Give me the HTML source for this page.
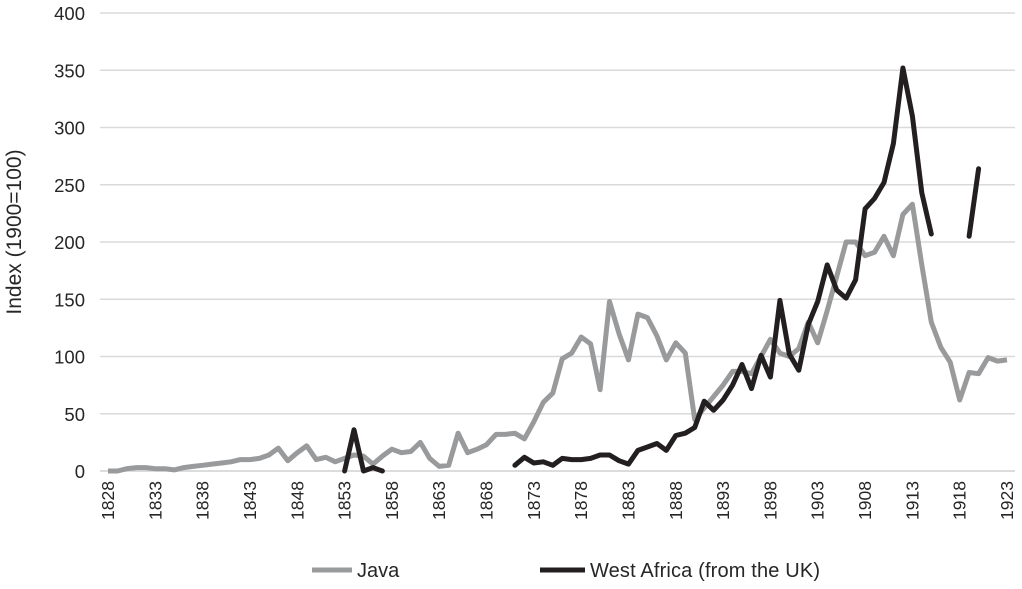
<!DOCTYPE html>
<html><head><meta charset="utf-8"><style>
body{margin:0;background:#fff;font-family:"Liberation Sans",sans-serif}
text{font-family:"Liberation Sans",sans-serif;fill:#262626}
</style></head><body>
<svg id="c" width="1022" height="584"></svg>
<script>
const years=[];for(let y=1828;y<=1923;y++)years.push(y);
const java=[0,0,2,3,3,2,2,1,3,4,5,6,7,8,10,10,11,14,20,9,16,22,10,12,8,11,14,13,6,13,19,16,17,25,11,4,5,33,16,19,23,32,32,33,28,43,60,68,98,103,117,111,71,148,120,97,137,134,118,97,112,103,45,55,65,75,87,87,85,100,115,103,100,107,130,112,140,170,200,200,188,191,205,188,224,233,180,130,108,95,62,86,85,99,96,97];
const westAfrica={1853:0,1854:36,1855:0,1856:3,1857:0,1871:5,1872:12,1873:7,1874:8,1875:5,1876:11,1877:10,1878:10,1879:11,1880:14,1881:14,1882:9,1883:6,1884:18,1885:21,1886:24,1887:18,1888:31,1889:33,1890:38,1891:61,1892:53,1893:62,1894:75,1895:93,1896:72,1897:101,1898:82,1899:149,1900:102,1901:88,1902:128,1903:148,1904:180,1905:158,1906:151,1907:167,1908:229,1909:238,1910:252,1911:286,1912:352,1913:310,1914:243,1915:207,1919:205,1920:264};
const yTicks=[0,50,100,150,200,250,300,350,400];
const xTickLabels=years.filter(y=>(y-1828)%5===0);
const NS="http://www.w3.org/2000/svg",svg=document.getElementById('c');
const X0=108,X1=1007,Y0=471,Y1=13;
const xs=y=>X0+(y-1828)*(X1-X0)/95, ys=v=>Y0-(v/400)*(Y0-Y1);
function mk(t,a,p){const e=document.createElementNS(NS,t);for(const k in a)e.setAttribute(k,a[k]);(p||svg).appendChild(e);return e;}
yTicks.forEach(v=>{
 const l=mk('line',{x1:X0-8,x2:X1+8,y1:ys(v),y2:ys(v),stroke:v===0?'#d0d0d0':'#dadada','stroke-width':1.5});
 
 
 const t=mk('text',{x:85,y:ys(v)+7,'text-anchor':'end','font-size':18.5});t.textContent=v;
 
 
});
xTickLabels.forEach(y=>{
 const t=mk('text',{transform:`translate(${xs(y)+6},${481}) rotate(-90)`,'text-anchor':'end','font-size':17.5});t.textContent=y;
 
 
});
const yt=mk('text',{transform:'translate(21,232) rotate(-90)','text-anchor':'middle','font-size':21});yt.textContent='Index (1900=100)';


function path(pts){return pts.map((p,i)=>(i?'L':'M')+p[0].toFixed(1)+' '+p[1].toFixed(1)).join(' ');}
const jp=mk('path',{d:path(years.map((y,i)=>[xs(y),ys(java[i])])),fill:'none',stroke:'#999a9c','stroke-width':5,'stroke-linejoin':'round'});


let segs=[],cur=[];
years.forEach(y=>{if(westAfrica[y]!==undefined)cur.push([xs(y),ys(westAfrica[y])]);else if(cur.length){segs.push(cur);cur=[];}});
if(cur.length)segs.push(cur);
segs.forEach(s=>{const p=mk('path',{d:path(s),fill:'none',stroke:'#231f20','stroke-width':5,'stroke-linejoin':'round','stroke-linecap':'round'});
 
 });
const g1=mk('g',{});
mk('line',{x1:312,x2:352,y1:570,y2:570,stroke:'#999a9c','stroke-width':5},g1);
mk('text',{x:357,y:577,'font-size':20},g1).textContent='Java';
const g2=mk('g',{});
mk('line',{x1:540,x2:585,y1:570,y2:570,stroke:'#231f20','stroke-width':5},g2);
mk('text',{x:590,y:577,'font-size':20,textLength:230},g2).textContent='West Africa (from the UK)';
</script>
</body></html>
